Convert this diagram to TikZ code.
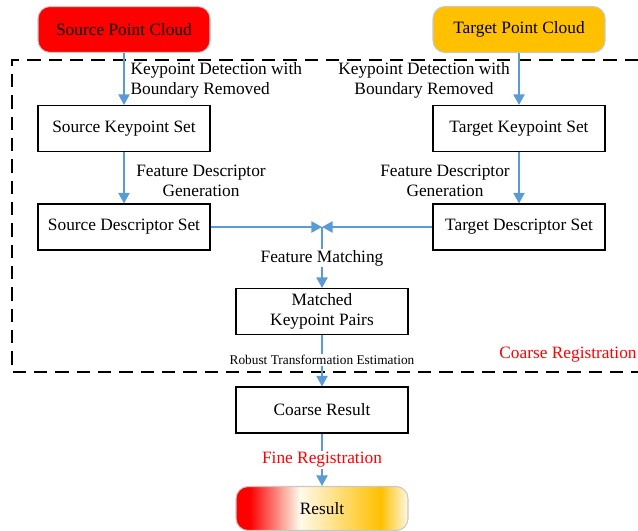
\documentclass[tikz,border=0pt]{standalone}
\usepackage{fontspec}
\setmainfont{Liberation Serif}
\usetikzlibrary{arrows.meta}

\definecolor{flowblue}{HTML}{5B9BD5}
\definecolor{gold}{HTML}{FFC000}
\definecolor{rimgray}{HTML}{C8C8C8}

% red -> pale -> gold, the part between 25bp and 75bp lands on the node
\pgfdeclarehorizontalshading{resultfade}{100bp}{color(0bp)=(red); color(25bp)=(red); color(29bp)=(red);
  color(43.5bp)=(gold!8); color(67bp)=(gold); color(75bp)=(gold!10); color(100bp)=(gold!10)}

\tikzset{
  box/.style={draw, line width=0.8pt, minimum width=129pt, minimum height=34.5pt, font=\fontsize{13}{15}\selectfont},
  cloud/.style={box, draw=rimgray, rounded corners=9pt},
  flow/.style={draw=flowblue, line width=1.1pt, -{Triangle[length=8pt,width=8.5pt]}},
  lbl/.style={font=\fontsize{13}{15}\selectfont, inner sep=1pt},
}

\begin{document}
\begin{tikzpicture}[x=0.75pt, y=-0.75pt]
\useasboundingbox (0,0) rectangle (638,531);

% coarse registration frame, its right side runs off the page
\draw[line width=1.5pt, dash pattern=on 10pt off 6pt] (638,60) -- (12,60) -- (12,372) -- (638,372);
\node[lbl, text=red] (coarsereg) at (568,355) {Coarse Registration};

\node[cloud, fill=red] (src) at (124,29.5) {Source Point Cloud};
\node[cloud, fill=gold] (tgt) at (519,29.5) {Target Point Cloud};

\node[box] (srckp) at (124,128.5) {Source Keypoint Set};
\node[box] (tgtkp) at (519,128.5) {Target Keypoint Set};

\node[box] (srcdesc) at (124,227) {Source Descriptor Set};
\node[box] (tgtdesc) at (519,227) {Target Descriptor Set};

\node[box, align=center] (matched) at (322,311.5) {Matched\\Keypoint Pairs};
\node[box] (coarse) at (322,410) {Coarse Result};
\node[cloud, shading=resultfade, minimum height=33pt] (result) at (322,508.5) {Result};

\coordinate (meet) at (322,227);

% arrows
\draw[flow] (src) -- (srckp);
\draw[flow] (tgt) -- (tgtkp);
\draw[flow] (srckp) -- (srcdesc);
\draw[flow] (tgtkp) -- (tgtdesc);
\draw[flow] (srcdesc) -- (meet);
\draw[flow] (tgtdesc) -- (meet);
\draw[flow] (meet) -- (matched);
\draw[flow] (matched) -- (coarse);
\draw[flow] (coarse) -- (result);

% step labels
\node[lbl, align=left, anchor=west] (srcdet) at (129,80) {Keypoint Detection with\\Boundary Removed};
\node[lbl, align=center] (tgtdet) at (424,80) {Keypoint Detection with\\Boundary Removed};
\node[lbl, align=center] (srcgen) at (201,181) {Feature Descriptor\\Generation};
\node[lbl, align=center] (tgtgen) at (445,181) {Feature Descriptor\\Generation};
\node[lbl, fill=white] (matching) at (322,258) {Feature Matching};
\node[lbl, fill=white, font=\fontsize{10}{12}\selectfont] (robust) at (322,360) {Robust Transformation Estimation};
\node[lbl, fill=white, text=red] (fine) at (322,460) {Fine Registration};

\end{tikzpicture}
\end{document}
